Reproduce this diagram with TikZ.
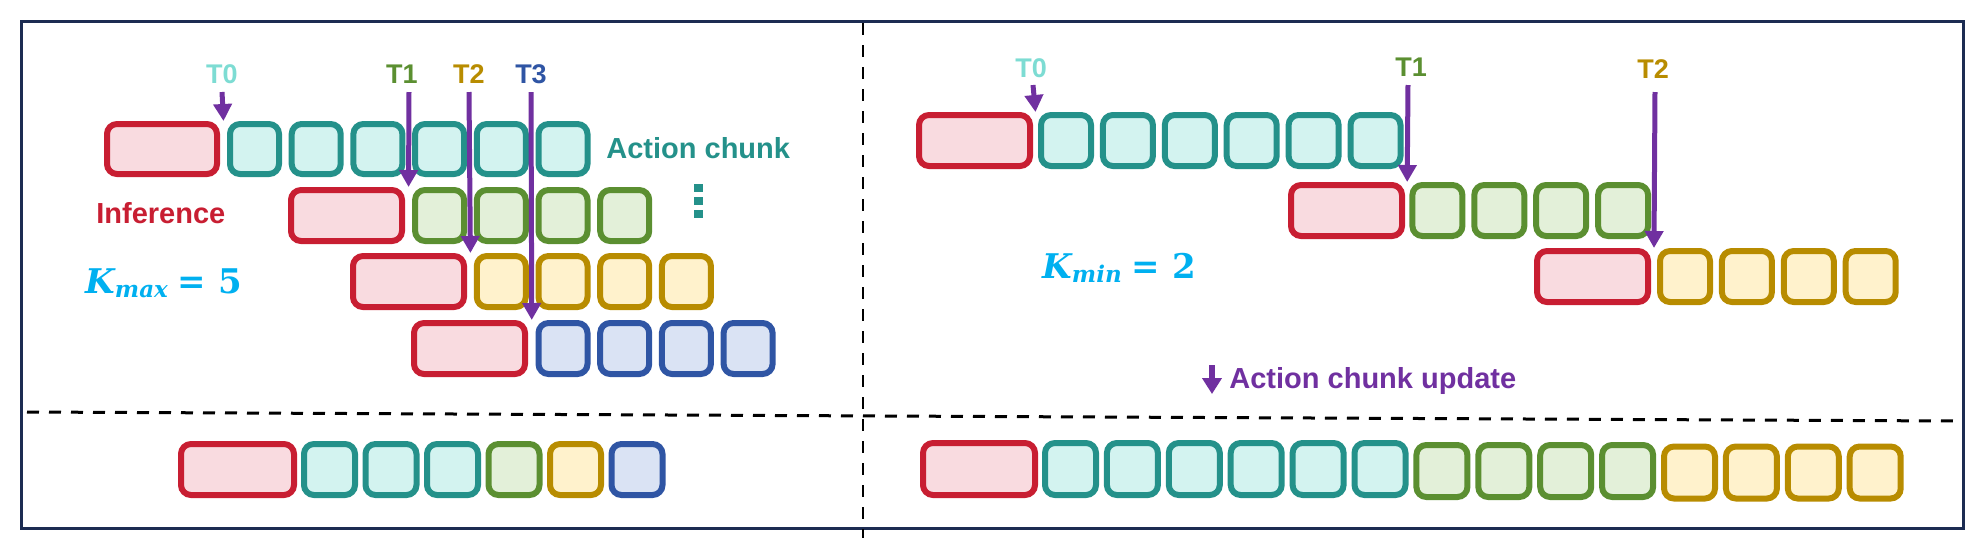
\documentclass[tikz,border=0pt]{standalone}
\usepackage[no-math]{fontspec}
\setmainfont{Liberation Sans}
\newfontfamily\kfont{DejaVu Serif}
\usetikzlibrary{arrows.meta,calc}
\definecolor{infR}{HTML}{C81E32}
\definecolor{infF}{HTML}{F9DBE0}
\definecolor{tealR}{HTML}{24918A}
\definecolor{tealF}{HTML}{D3F3F0}
\definecolor{grnR}{HTML}{5B8F31}
\definecolor{grnF}{HTML}{E3F0D9}
\definecolor{yelR}{HTML}{B88C00}
\definecolor{yelF}{HTML}{FFF2CC}
\definecolor{bluR}{HTML}{2F55A4}
\definecolor{bluF}{HTML}{DAE3F4}
\definecolor{purp}{HTML}{7030A0}
\definecolor{tzero}{HTML}{7DDCD3}
\definecolor{kcol}{HTML}{00B0F0}
\definecolor{frameC}{HTML}{1C2C52}
\tikzset{
  box/.style={draw, line width=3pt, rounded corners=5pt, inner sep=0pt, outer sep=0pt},
  infb/.style={box, draw=infR, fill=infF},
  tealb/.style={box, draw=tealR, fill=tealF},
  grnb/.style={box, draw=grnR, fill=grnF},
  yelb/.style={box, draw=yelR, fill=yelF},
  blub/.style={box, draw=bluR, fill=bluF},
  parrow/.style={draw=purp, line width=2.5pt, -{Triangle[width=9pt,length=8.5pt]}},
  tlabel/.style={inner sep=0pt, anchor=base, font=\bfseries\fontsize{13.5}{14}\selectfont},
  btext/.style={inner sep=0pt, anchor=base west, font=\bfseries\fontsize{14.5}{16}\selectfont},
  ktext/.style={inner sep=0pt, anchor=base west, text=kcol, font=\kfont\bfseries\fontsize{17}{20}\selectfont},
  dashline/.style={draw=black, line width=1.5pt, dash pattern=on 6pt off 5pt},
  framebox/.style={draw=frameC, line width=1.5pt},
}
\newcommand\bx[6]{%
  \pgfmathsetmacro\bxw{(#4-6)*0.5}%
  \pgfmathsetmacro\bxh{(#5-6)*0.5}%
  \node[#6, anchor=north west, minimum width=\bxw pt, minimum height=\bxh pt] (#1) at (#2+3,#3+3) {};}
\newcommand\kexpr[2]{{\itshape K}\raisebox{-2pt}{\itshape\fontsize{11.5}{12}\selectfont #1}\hspace{5pt}=\hspace{6pt}#2}
\begin{document}
\begin{tikzpicture}[x=0.5pt,y=-0.5pt]
\useasboundingbox (0,0) rectangle (1978,548);
% frame and separators
\draw[framebox] (21,21) rectangle (1963,528);
\draw[dashline, line width=1.25pt] (863,23) -- (863,538);
\draw[dashline] (27,412) -- (1957,421);
% ---------- left panel ----------
\bx{L1r}{104}{121}{116}{56}{infb}
\foreach \k in {0,...,5} {\bx{L1a\k}{227+61.7*\k}{121}{55}{56}{tealb}}
\bx{L2r}{288}{187}{117}{57}{infb}
\foreach \k in {3,...,6} {\bx{L2a\k}{227+61.7*\k}{187}{55}{57}{grnb}}
\bx{L3r}{350}{253}{117}{57}{infb}
\foreach \k in {4,...,7} {\bx{L3a\k}{227+61.7*\k}{253}{55}{57}{yelb}}
\bx{L4r}{411}{320}{117}{57}{infb}
\foreach \k in {5,...,8} {\bx{L4a\k}{227+61.7*\k}{320}{55}{57}{blub}}
% labels left
\node[tlabel, text=tzero] (LT0) at (222,83) {T0};
\node[tlabel, text=grnR] (LT1) at (402,83) {T1};
\node[tlabel, text=yelR] (LT2) at (469,83) {T2};
\node[tlabel, text=bluR] (LT3) at (531,83) {T3};
\coordinate (sLT0) at (222,92);
\coordinate (sLT1) at (409,92);
\coordinate (sLT2) at (469,92);
\coordinate (sLT3) at (531,92);
\draw[parrow] (sLT0) -- ($(L1r.north east)!0.5!(L1a0.north west)+(0,-3)$);
\draw[parrow] (sLT1) -- ($(L2r.north east)!0.5!(L2a3.north west)+(0,-3)$);
\draw[parrow] (sLT2) -- ($(L3r.north east)!0.5!(L3a4.north west)+(0,-3)$);
\draw[parrow] (sLT3) -- ($(L4r.north east)!0.5!(L4a5.north west)+(0,-3)$);
\node[btext, text=tealR] (achunk) at (606,158) {Action chunk};
\node[btext, text=infR] (infer) at (96,223) {Inference};
\fill[tealR] (694,184) rectangle (703,192);
\fill[tealR] (694,197) rectangle (703,205);
\fill[tealR] (694,210) rectangle (703,218);
\node[ktext] (kmax) at (85,293) {\kexpr{max}{5}};
% ---------- right panel ----------
\bx{R1r}{916}{112}{117}{57}{infb}
\foreach \k in {0,...,5} {\bx{R1a\k}{1038+61.9*\k}{112}{56}{57}{tealb}}
\bx{R2r}{1288}{182}{117}{57}{infb}
\foreach \k in {6,...,9} {\bx{R2a\k}{1038+61.9*\k}{182}{56}{57}{grnb}}
\bx{R3r}{1534}{248}{117}{57}{infb}
\foreach \k in {10,...,13} {\bx{R3a\k}{1038+61.9*\k}{248}{56}{57}{yelb}}
\node[tlabel, text=tzero] (RT0) at (1031,77) {T0};
\node[tlabel, text=grnR] (RT1) at (1411,76) {T1};
\node[tlabel, text=yelR] (RT2) at (1653,78) {T2};
\coordinate (sRT0) at (1033,85);
\coordinate (sRT1) at (1408,85);
\coordinate (sRT2) at (1655,92);
\draw[parrow] (sRT0) -- ($(R1r.north east)!0.5!(R1a0.north west)+(0,-3)$);
\draw[parrow] (sRT1) -- ($(R2r.north east)!0.5!(R2a6.north west)+(0,-3)$);
\draw[parrow] (sRT2) -- ($(R3r.north east)!0.5!(R3a10.north west)+(0,-3)$);
\node[ktext] (kmin) at (1042,278) {\kexpr{min}{2}};
% legend
\coordinate (legS) at (1212,365);
\coordinate (legE) at (1212,394);
\draw[draw=purp, line width=3pt, -{Triangle[width=9.5pt,length=8pt]}] (legS) -- (legE);
\node[btext, text=purp] (legend) at (1229,388) {Action chunk update};
% ---------- bottom rows ----------
\bx{BLr}{178}{441}{119}{57}{infb}
\bx{BL0}{301}{441}{57}{57}{tealb}
\bx{BL1}{362.5}{441}{57}{57}{tealb}
\bx{BL2}{424}{441}{57}{57}{tealb}
\bx{BL3}{485.5}{441}{57}{57}{grnb}
\bx{BL4}{547}{441}{57}{57}{yelb}
\bx{BL5}{608.5}{441}{57}{57}{blub}
\bx{BRr}{920}{440}{118}{58}{infb}
\foreach \k in {0,...,5} {\bx{BRa\k}{1042+61.9*\k}{440}{57}{58}{tealb}}
\foreach \k in {6,...,9} {\bx{BRa\k}{1042+61.9*\k}{442}{57}{58}{grnb}}
\foreach \k in {10,...,13} {\bx{BRa\k}{1042+61.9*\k}{443.5}{57}{58}{yelb}}
\end{tikzpicture}
\end{document}
